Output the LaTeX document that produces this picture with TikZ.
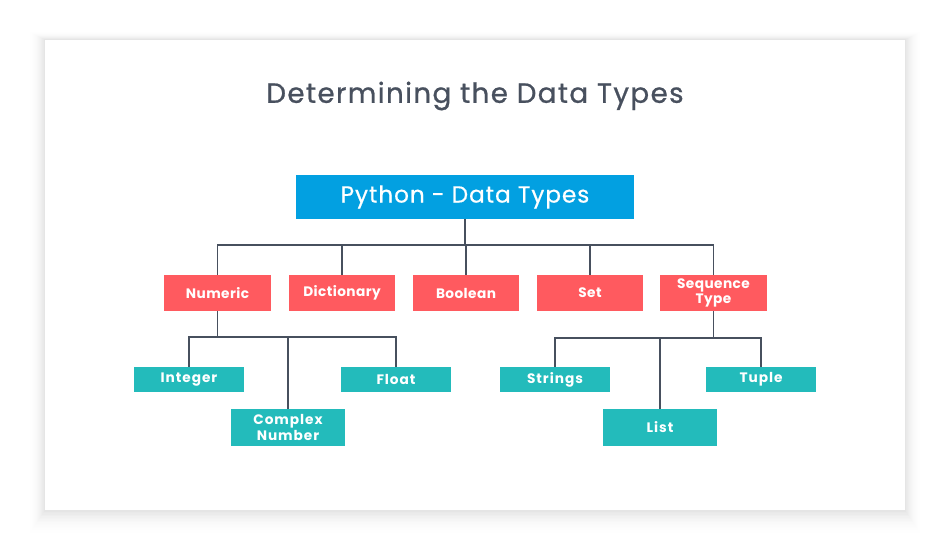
\documentclass[tikz,border=0pt]{standalone}
\usepackage{fontspec}
\setmainfont{Poppins}
\usetikzlibrary{positioning}

\definecolor{rootblue}{RGB}{2,160,225}
\definecolor{typered}{RGB}{255,90,95}
\definecolor{subteal}{RGB}{35,187,187}
\definecolor{wiregray}{RGB}{71,80,94}
\definecolor{headgray}{RGB}{72,80,94}

\tikzset{
  rootbox/.style={fill=rootblue, text=white, minimum width=6.76cm, minimum height=0.88cm,
    inner sep=0pt, font=\fontsize{13.2}{15}\selectfont\addfontfeature{LetterSpace=4,FakeBold=0.6}},
  typebox/.style={fill=typered, text=white, minimum width=2.14cm, minimum height=0.72cm,
    inner sep=0pt, align=center, font=\fontsize{7.8}{8.6}\selectfont\bfseries\addfontfeature{LetterSpace=3}},
  leafbox/.style={fill=subteal, text=white, minimum width=2.2cm, minimum height=0.5cm,
    inner sep=0pt, align=center, font=\fontsize{7.8}{8.8}\selectfont\bfseries\addfontfeature{LetterSpace=7}},
  bigleaf/.style={leafbox, minimum width=2.28cm, minimum height=0.74cm},
  wire/.style={draw=wiregray, line width=1.1pt}
}

\begin{document}
\begin{tikzpicture}[x=0.02cm, y=-0.02cm]
\useasboundingbox (0,0) rectangle (950,550);
% card with soft shadow
\foreach \i in {16,...,1}{
  \pgfmathsetmacro{\shade}{10*((17-\i)/16)^2}
  \fill[black!\shade] (45-\i*1,40-\i*0.5) rectangle (905+\i*1,510+\i*1.5);
}
\fill[white] (45,40) rectangle (905,510);

\node[text=headgray, font=\fontsize{15.8}{18}\selectfont\addfontfeature{LetterSpace=5,FakeBold=0.8}] (title) at (475,96) {Determining the Data Types};

\node[rootbox] (root) at (465,197) {Python - Data Types};

\node[typebox] (num) at (217.5,293) {Numeric};
\node[typebox] (dict) at (342,293) {Dictionary};
\node[typebox] (bool) at (466,293) {Boolean};
\node[typebox] (set) at (590,293) {Set};
\node[typebox] (seq) at (713.5,293) {Sequence\\Type};

\node[leafbox] (int) at (189,379.5) {Integer};
\node[bigleaf] (cplx) at (288,427.5) {Complex\\Number};
\node[leafbox] (flt) at (396,379.5) {Float};
\node[leafbox] (str) at (555,379.5) {Strings};
\node[bigleaf] (lst) at (660,427.5) {List};
\node[leafbox] (tup) at (761,379.5) {Tuple};

\coordinate (rootbus) at (465,245);
\coordinate (numbus) at (217.5,337);
\coordinate (seqbus) at (713.5,338);

\draw[wire] (root) -- (rootbus);
\draw[wire] (num) |- (rootbus);
\draw[wire] (dict) |- (rootbus);
\draw[wire] (bool) |- (rootbus);
\draw[wire] (set) |- (rootbus);
\draw[wire] (seq) |- (rootbus);

\draw[wire] (num) -- (numbus);
\draw[wire] (int) |- (numbus);
\draw[wire] (cplx) |- (numbus);
\draw[wire] (flt) |- (numbus);

\draw[wire] (seq) -- (seqbus);
\draw[wire] (str) |- (seqbus);
\draw[wire] (lst) |- (seqbus);
\draw[wire] (tup) |- (seqbus);
\end{tikzpicture}
\end{document}
